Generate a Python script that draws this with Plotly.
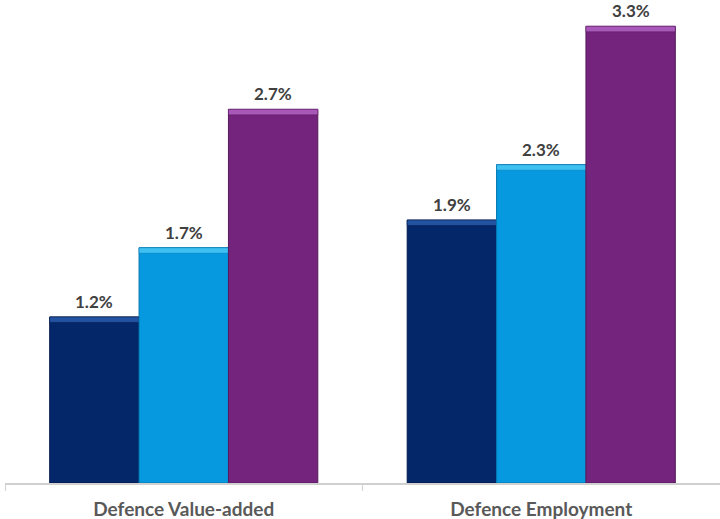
import plotly.graph_objects as go

categories = ["Defence Value-added", "Defence Employment"]
series_a = [1.2, 1.9]
series_b = [1.7, 2.3]
series_c = [2.7, 3.3]

fills = ["#04276a", "#0699e0", "#74247c"]
tops = ["#2252a0", "#3fc0f2", "#a858b8"]
edges = ["#021a4a", "#0577b0", "#561a5c"]
bevel = 0.04

fig = go.Figure()
for i, vals in enumerate([series_a, series_b, series_c]):
    fig.add_trace(go.Bar(
        x=categories, y=vals, offsetgroup=str(i),
        marker=dict(color=fills[i], line=dict(color=edges[i], width=1)),
        hoverinfo="skip", showlegend=False,
    ))
    fig.add_trace(go.Bar(
        x=categories, y=[bevel] * len(vals), base=[v - bevel for v in vals],
        offsetgroup=str(i),
        marker=dict(color=tops[i], line=dict(color=edges[i], width=0.5)),
        hoverinfo="skip", showlegend=False,
    ))

annotations = []
for i, vals in enumerate([series_a, series_b, series_c]):
    for cat, v in zip(categories, vals):
        annotations.append(dict(
            x=cat, y=v, xref="x", yref="y", text=f"<b>{v:.1f}%</b>",
            showarrow=False, yanchor="bottom", yshift=3, xshift=(i - 1) * 89.5,
            font=dict(family="Lato", size=17, color="#404040"),
        ))

fig.update_layout(
    width=720, height=519,
    margin=dict(l=5, r=0, t=0, b=36),
    barmode="group", bargap=0.25, bargroupgap=0,
    plot_bgcolor="white", paper_bgcolor="white",
    annotations=annotations,
    xaxis=dict(
        showline=True, linecolor="#d0d0d0", linewidth=1.5,
        tickson="boundaries", ticks="outside", ticklen=6, tickcolor="#d0d0d0",
        ticklabelstandoff=8,
        tickfont=dict(family="Lato", size=19, color="#595959"),
        tickprefix="<b>", ticksuffix="</b>",
    ),
    yaxis=dict(range=[0, 3.49], visible=False, showgrid=False),
)

fig.write_html("out.html")
